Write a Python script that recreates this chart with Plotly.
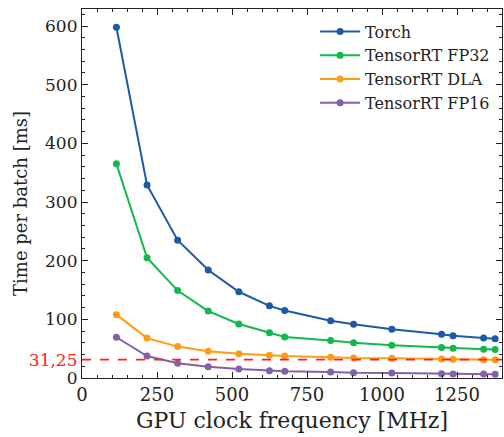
import plotly.graph_objects as go

freq_mhz = [114.75, 216.75, 318.75, 420.75, 522.75, 624.75, 675.75, 828.75,
            905.25, 1032.75, 1198.5, 1236.75, 1338.75, 1377.0]
torch = [598, 329, 235, 184, 147, 123, 115, 97.5, 91.5, 83, 74.5, 72, 68, 67]
trt_fp32 = [365, 205, 149, 114, 92, 77, 70, 64, 60, 56, 52, 50.5, 49, 48.5]
trt_dla = [108, 68, 53.5, 45.5, 41.5, 38.7, 37.5, 35.3, 34, 33.6, 32.2, 32, 31.3, 31]
trt_fp16 = [69.5, 37.5, 25, 19.3, 15.4, 12.5, 11.4, 10.2, 9, 8.5, 7.3, 7, 6.8, 6.5]
threshold = 31.25
threshold_label = "31,25"

series = [
    ("Torch", torch, "#1b5aa6"),
    ("TensorRT FP32", trt_fp32, "#12b84c"),
    ("TensorRT DLA", trt_dla, "#ff9b14"),
    ("TensorRT FP16", trt_fp16, "#8560a8"),
]

fig = go.Figure()
for name, vals, col in series:
    fig.add_trace(go.Scatter(
        x=freq_mhz, y=vals, name=name, mode="lines+markers",
        line=dict(color=col, width=2), marker=dict(color=col, size=7),
    ))

fig.add_shape(type="line", xref="paper", x0=0, x1=1, yref="y",
              y0=threshold, y1=threshold,
              line=dict(color="#ff2020", width=1.6, dash="dash"), layer="above")

font = "DejaVu Serif"
yticks = [0, 100, 200, 300, 400, 500, 600, threshold]
ytext = [str(v) for v in yticks[:-1]] + [
    "<span style='color:#ff2020'>" + threshold_label + "</span>"]

fig.add_annotation(text="Time per batch [ms]", textangle=-90,
                   xref="paper", yref="paper", x=-0.148, y=0.474,
                   xanchor="center", yanchor="middle", showarrow=False,
                   font=dict(size=18))

fig.update_layout(
    width=504, height=437,
    margin=dict(l=82, r=2, t=9, b=59),
    paper_bgcolor="white", plot_bgcolor="white",
    font=dict(family=font, size=18, color="#222"),
    showlegend=True,
    legend=dict(x=0.555, y=0.985, xanchor="left", yanchor="top",
                bgcolor="rgba(0,0,0,0)", font=dict(size=16),
                tracegroupgap=0, itemwidth=40),
    xaxis=dict(range=[0, 1400], tickvals=[0, 250, 500, 750, 1000, 1250],
               ticks="inside", ticklen=6, tickcolor="#222",
               minor=dict(dtick=50, ticks="inside", ticklen=3, tickcolor="#222"),
               showline=True, linecolor="#222", linewidth=1.2, mirror="ticks",
               showgrid=False, zeroline=False,
               title=dict(text="GPU clock frequency [MHz]", standoff=8)),
    yaxis=dict(range=[0, 629], tickvals=yticks, ticktext=ytext,
               tickfont=dict(size=17),
               ticks="inside", ticklen=6, tickcolor="#222",
               minor=dict(dtick=20, ticks="inside", ticklen=3, tickcolor="#222"),
               showline=True, linecolor="#222", linewidth=1.2, mirror="ticks",
               showgrid=False, zeroline=False),
)

fig.write_html("out.html")
